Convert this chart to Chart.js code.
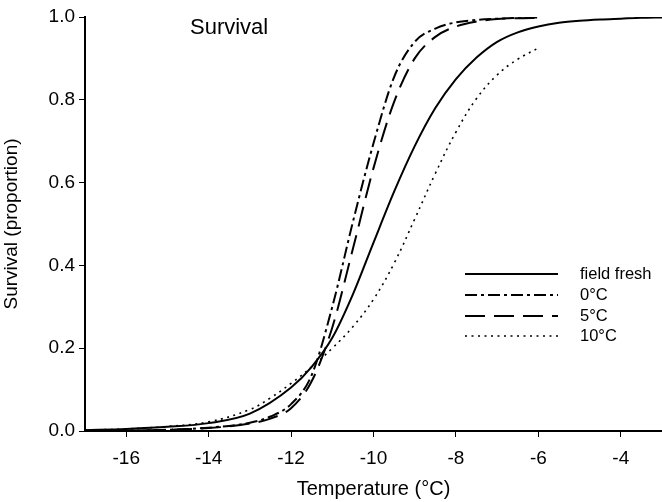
<!DOCTYPE html>
<html>
<head>
<meta charset="utf-8">
<script src="https://cdn.jsdelivr.net/npm/chart.js@4.4.0/dist/chart.umd.min.js"></script>
<style>
html,body{margin:0;padding:0;background:#fff;}
#wrap{width:662px;height:502px;position:relative;}
</style>
</head>
<body>
<div id="wrap"><canvas id="c" width="662" height="502"></canvas></div>
<script>
// Data
const seriesLabels = ['field fresh', '0°C', '5°C', '10°C'];
const fieldFreshT = [-17,-16,-15,-14,-13,-12,-11.5,-11,-10.5,-10,-9.5,-9,-8.5,-8,-7.5,-7,-6.5,-6,-5.5,-5,-4.5,-4,-3.5,-3];
const fieldFreshS = [0.002,0.005,0.01,0.019,0.042,0.105,0.155,0.225,0.33,0.455,0.578,0.688,0.78,0.85,0.902,0.94,0.963,0.977,0.986,0.991,0.994,0.996,0.998,0.999];
const treatedT = [-17,-16,-15,-14,-13,-12.5,-12,-11.5,-11,-10.5,-10,-9.5,-9,-8.5,-8,-7.5,-7,-6.5,-6];
const zeroS = [0.0005,0.001,0.003,0.008,0.02,0.035,0.065,0.135,0.30,0.505,0.695,0.855,0.94,0.972,0.987,0.993,0.996,0.998,0.999];
const fiveS = [0.0005,0.001,0.003,0.007,0.018,0.03,0.055,0.12,0.25,0.44,0.635,0.795,0.90,0.952,0.977,0.989,0.995,0.997,0.998];
const tenS = [0.002,0.005,0.011,0.022,0.052,0.08,0.115,0.155,0.2,0.252,0.318,0.405,0.512,0.622,0.722,0.803,0.86,0.898,0.925];
const xTicks = [-16,-14,-12,-10,-8,-6,-4];
const yTicks = [0,0.2,0.4,0.6,0.8,1.0];
const panelTitle = 'Survival';
const xTitle = 'Temperature (°C)';
const yTitle = 'Survival (proportion)';

const pts = (xs, ys) => xs.map((x, i) => ({x: x, y: ys[i]}));
const FONT = '"Liberation Sans", Arial, sans-serif';

const styles = [
  {dash: [], width: 2, mode: 'monotone'},
  {dash: [12,4,3,4], width: 2, mode: 'monotone'},
  {dash: [20,9], width: 2, mode: 'monotone'},
  {dash: [2,4.5], width: 1.6, mode: 'default'}
];
const dataSets = [pts(fieldFreshT, fieldFreshS), pts(treatedT, zeroS), pts(treatedT, fiveS), pts(treatedT, tenS)];

const overlay = {
  id: 'overlay',
  afterDraw(chart) {
    const ctx = chart.ctx;
    ctx.save();
    ctx.fillStyle = '#000';
    ctx.font = '22px ' + FONT;
    ctx.textBaseline = 'middle';
    ctx.textAlign = 'left';
    ctx.fillText(panelTitle, 190, 28);
    // legend
    const rows = [274, 295, 316, 336];
    chart.data.datasets.forEach((ds, i) => {
      const y = rows[i];
      ctx.beginPath();
      ctx.setLineDash(ds.borderDash || []);
      ctx.lineWidth = ds.borderWidth;
      ctx.strokeStyle = '#000';
      ctx.moveTo(465, y);
      ctx.lineTo(558, y);
      ctx.stroke();
      ctx.setLineDash([]);
      ctx.font = '16.5px ' + FONT;
      ctx.fillText(ds.label, 580, y);
    });
    ctx.restore();
  }
};

new Chart(document.getElementById('c'), {
  type: 'line',
  data: {
    datasets: dataSets.map((d, i) => ({
      label: seriesLabels[i],
      data: d,
      borderColor: '#000',
      borderWidth: styles[i].width,
      borderDash: styles[i].dash,
      pointRadius: 0,
      fill: false,
      tension: 0.4,
      cubicInterpolationMode: styles[i].mode
    }))
  },
  options: {
    responsive: false,
    animation: false,
    events: [],
    layout: {padding: {top: 17, right: 0, left: 0, bottom: 0}},
    plugins: {legend: {display: false}, tooltip: {enabled: false}, title: {display: false}},
    scales: {
      x: {
        type: 'linear', min: -17, max: -3,
        afterBuildTicks: s => { s.ticks = xTicks.map(v => ({value: v})); },
        afterFit: s => { s.height = 71; },
        grid: {drawOnChartArea: false, drawTicks: true, tickLength: 6, color: '#000', lineWidth: 1},
        border: {display: true, color: '#000', width: 2},
        ticks: {color: '#000', font: {family: FONT, size: 19}, padding: 10, maxRotation: 0, autoSkip: false},
        title: {display: true, text: xTitle, color: '#000', font: {family: FONT, size: 20}, padding: {top: 0, bottom: 1}}
      },
      y: {
        type: 'linear', min: 0, max: 1,
        afterBuildTicks: s => { s.ticks = yTicks.map(v => ({value: v})); },
        afterFit: s => { s.width = 85; },
        grid: {drawOnChartArea: false, drawTicks: true, tickLength: 6, color: '#000', lineWidth: 1},
        border: {display: true, color: '#000', width: 2},
        ticks: {color: '#000', font: {family: FONT, size: 19}, padding: 4, callback: v => v.toFixed(1)},
        title: {display: true, text: yTitle, color: '#000', font: {family: FONT, size: 19}, padding: {top: 0, bottom: 4}}
      }
    }
  },
  plugins: [overlay]
});
</script>
</body>
</html>
